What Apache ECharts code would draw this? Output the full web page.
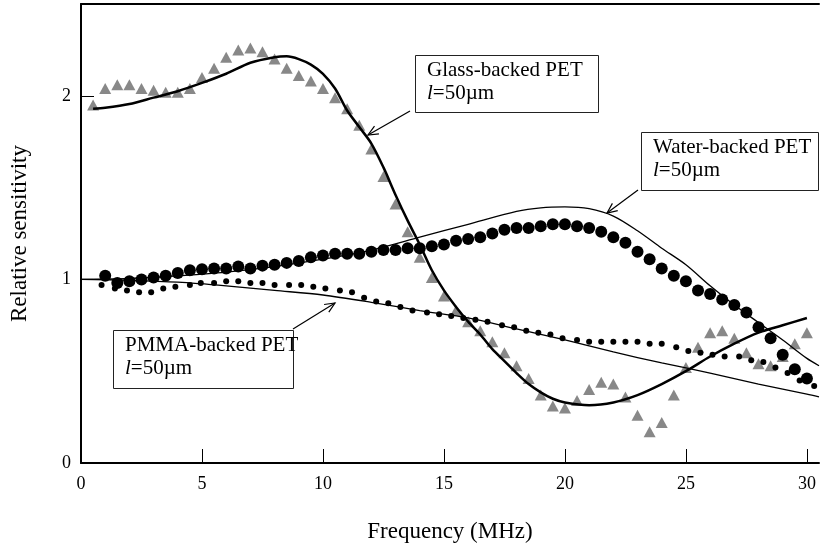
<!DOCTYPE html>
<html>
<head>
<meta charset="utf-8" />
<title>Relative sensitivity</title>
<style type="text/css">
body{ margin:0; background:#fff; }
#main{ width:821px; height:552px; }
</style>
</head>
<body>
<div id="main"></div>
<script src="https://cdn.jsdelivr.net/npm/echarts@6/dist/echarts.min.js"></script>
<script type="text/javascript">
// measured data (MHz, relative sensitivity)
var glassX = [0.5,1,1.5,2,2.5,3,3.5,4,4.5,5,5.5,6,6.5,7,7.5,8,8.5,9,9.5,10,10.5,11,11.5,12,12.5,13,13.5,14,14.5,15,15.5,16,16.5,17,17.5,18,18.5,19,19.5,20,20.5,21,21.5,22,22.5,23,23.5,24,24.5,25,25.5,26,26.5,27,27.5,28,28.5,29,29.5,30];
var glassY = [1.95,2.04,2.06,2.06,2.04,2.03,2.02,2.02,2.04,2.10,2.15,2.21,2.25,2.26,2.24,2.20,2.15,2.11,2.08,2.04,1.99,1.93,1.84,1.71,1.56,1.41,1.26,1.12,1.01,0.91,0.83,0.77,0.72,0.66,0.60,0.53,0.46,0.37,0.31,0.30,0.34,0.40,0.44,0.43,0.36,0.26,0.17,0.22,0.37,0.52,0.63,0.71,0.72,0.68,0.60,0.54,0.53,0.58,0.65,0.71];

var waterX = [1,1.5,2,2.5,3,3.5,4,4.5,5,5.5,6,6.5,7,7.5,8,8.5,9,9.5,10,10.5,11,11.5,12,12.5,13,13.5,14,14.5,15,15.5,16,16.5,17,17.5,18,18.5,19,19.5,20,20.5,21,21.5,22,22.5,23,23.5,24,24.5,25,25.5,26,26.5,27,27.5,28,28.5,29,29.5,30];
var waterY = [1.02,0.98,0.99,1.00,1.01,1.02,1.035,1.05,1.055,1.06,1.06,1.07,1.06,1.075,1.08,1.09,1.10,1.12,1.13,1.14,1.14,1.14,1.15,1.16,1.16,1.17,1.17,1.18,1.19,1.21,1.22,1.23,1.25,1.27,1.28,1.28,1.29,1.30,1.30,1.29,1.28,1.26,1.23,1.20,1.15,1.11,1.06,1.02,0.99,0.94,0.92,0.89,0.86,0.82,0.74,0.68,0.59,0.51,0.46];

var pmmaX = [0.85,1.4,1.9,2.4,2.9,3.4,3.9,4.5,4.95,5.5,6.0,6.5,7.0,7.5,8.0,8.6,9.1,9.6,10.1,10.7,11.2,11.7,12.2,12.7,13.2,13.7,14.3,14.8,15.3,15.8,16.3,16.8,17.4,17.9,18.4,18.9,19.4,19.9,20.5,21.0,21.5,22.0,22.5,23.0,23.5,24.0,24.6,25.1,25.6,26.1,26.6,27.2,27.7,28.2,28.7,29.2,29.7,30.3];
var pmmaY = [0.97,0.95,0.94,0.93,0.93,0.95,0.96,0.97,0.98,0.98,0.99,0.99,0.98,0.98,0.97,0.97,0.97,0.96,0.95,0.94,0.93,0.90,0.88,0.87,0.85,0.83,0.82,0.81,0.80,0.79,0.78,0.77,0.75,0.74,0.72,0.71,0.70,0.68,0.67,0.66,0.66,0.66,0.66,0.66,0.65,0.65,0.63,0.61,0.60,0.59,0.58,0.58,0.56,0.55,0.52,0.49,0.45,0.42];

// theory curves
var glassFitX = [0.5,1,2,3,4,5,6,7,8,8.5,9,9.5,10,10.5,11,11.5,12,12.5,13,13.5,14,14.5,15,15.5,16,16.5,17,17.5,18,18.5,19,19.5,20,21,22,23,24,25,26,27,28,29,30];
var glassFitY = [1.93,1.935,1.955,1.99,2.025,2.07,2.12,2.18,2.21,2.215,2.20,2.17,2.12,2.04,1.92,1.83,1.74,1.61,1.46,1.32,1.19,1.05,0.94,0.85,0.77,0.70,0.62,0.555,0.49,0.43,0.385,0.35,0.33,0.315,0.33,0.37,0.43,0.50,0.58,0.65,0.71,0.75,0.79];

var waterFitX = [0,2,4,6,8,10,12,14,16,18,19,20,21,22,23,24,25,26,27,28,29,30,30.5];
var waterFitY = [1.0,1.005,1.02,1.04,1.07,1.11,1.16,1.23,1.30,1.37,1.39,1.395,1.385,1.345,1.265,1.17,1.08,0.965,0.86,0.765,0.67,0.57,0.53];

var pmmaFitX = [0,2,4,6,8,10,12,14,16,18,20,22,24,26,28,30,30.5];
var pmmaFitY = [1.0,0.995,0.985,0.965,0.94,0.915,0.875,0.83,0.79,0.73,0.67,0.605,0.545,0.49,0.43,0.375,0.36];

var xTicks = [0,5,10,15,20,25,30];
var yTicks = [0,1,2];

function pairs(xs, ys){
  var out = [];
  for (var i = 0; i < xs.length; i++) out.push([xs[i], ys[i]]);
  return out;
}

var FONT = 'Liberation Serif';

// annotation boxes and arrows (pixel layout)
var notes = [
  {name:'Glass-backed PET', x:415, y:55, w:183, h:57, tail:[410,111], tip:[368,135]},
  {name:'Water-backed PET', x:641, y:132, w:177, h:58, tail:[638,190], tip:[607,213]},
  {name:'PMMA-backed PET', x:113, y:330, w:180, h:58, tail:[293,329], tip:[335,303]}
];

function arrowHead(tail, tip){
  var dx = tail[0]-tip[0], dy = tail[1]-tip[1];
  var len = Math.sqrt(dx*dx+dy*dy);
  var ux = dx/len, uy = dy/len;
  var a = 24*Math.PI/180, L = 11;
  var c = Math.cos(a), s = Math.sin(a);
  var p1 = [tip[0] + L*(ux*c - uy*s), tip[1] + L*(ux*s + uy*c)];
  var p2 = [tip[0] + L*(ux*c + uy*s), tip[1] + L*(-ux*s + uy*c)];
  return [p1, tip, p2];
}

var graphics = [];
notes.forEach(function(n){
  graphics.push({type:'rect', shape:{x:n.x+0.5, y:n.y+0.5, width:n.w, height:n.h},
    style:{fill:'#fff', stroke:'#222', lineWidth:1}, z:10});
  graphics.push({type:'text', x:n.x+12, y:n.y+4, z:11,
    style:{text:n.name+'\n{i|l}=50\u00b5m', font:'21px ' + FONT, fill:'#000', lineHeight:23,
      rich:{i:{fontStyle:'italic', fontSize:21, fontFamily:FONT, fill:'#000'}}}});
  graphics.push({type:'polyline', shape:{points:[n.tail, n.tip]}, style:{stroke:'#000', lineWidth:1.2}, z:10});
  graphics.push({type:'polyline', shape:{points:arrowHead(n.tail, n.tip)}, style:{stroke:'#000', lineWidth:1.2, fill:null}, z:10});
});

var myChart = echarts.init(document.getElementById('main'));

var option = {
  backgroundColor: '#fff',
  animation: false,
  grid: {left:81, right:2, top:4, bottom:89},
  xAxis: [{
    type:'value', min:0, max:30.5, position:'bottom',
    name:'Frequency (MHz)', nameLocation:'middle', nameGap:57,
    nameTextStyle:{fontFamily:FONT, fontSize:23, color:'#000'},
    axisLine:{show:true, onZero:false, lineStyle:{color:'#000', width:2}},
    axisTick:{show:true, inside:true, length:14, customValues:xTicks, lineStyle:{color:'#000', width:1}},
    axisLabel:{customValues:xTicks, fontFamily:FONT, fontSize:18, color:'#000', margin:12},
    splitLine:{show:false}
  }, {
    type:'value', min:0, max:30.5, position:'top',
    axisLine:{show:true, onZero:false, lineStyle:{color:'#000', width:2}},
    axisTick:{show:false}, axisLabel:{show:false}, splitLine:{show:false}
  }],
  yAxis: {
    type:'value', min:0, max:2.5,
    name:'Relative sensitivity', nameLocation:'middle', nameGap:50,
    nameTextStyle:{fontFamily:FONT, fontSize:23, color:'#000'},
    axisLine:{show:true, onZero:false, lineStyle:{color:'#000', width:2}},
    axisTick:{show:true, inside:true, length:13, customValues:yTicks, lineStyle:{color:'#000', width:1}},
    axisLabel:{customValues:yTicks, fontFamily:FONT, fontSize:18, color:'#000', margin:10},
    splitLine:{show:false}
  },
  series: [
    {name:'glassData', type:'scatter', symbol:'triangle', symbolSize:[12,11],
      itemStyle:{color:'#888888', opacity:1}, data:pairs(glassX, glassY), z:2},
    {name:'waterData', type:'scatter', symbol:'circle', symbolSize:12,
      itemStyle:{color:'#000', opacity:1}, data:pairs(waterX, waterY), z:4},
    {name:'pmmaData', type:'scatter', symbol:'circle', symbolSize:6,
      itemStyle:{color:'#000', opacity:1}, data:pairs(pmmaX, pmmaY), z:4},
    {name:'glassFit', type:'line', smooth:0.3, showSymbol:false, symbol:'none',
      lineStyle:{color:'#000', width:2.5}, data:pairs(glassFitX, glassFitY), z:3},
    {name:'waterFit', type:'line', smooth:0.3, showSymbol:false, symbol:'none',
      lineStyle:{color:'#000', width:1.3}, data:pairs(waterFitX, waterFitY), z:3},
    {name:'pmmaFit', type:'line', smooth:0.3, showSymbol:false, symbol:'none',
      lineStyle:{color:'#000', width:1.3}, data:pairs(pmmaFitX, pmmaFitY), z:3}
  ],
  graphic: graphics
};

myChart.setOption(option);
</script>
</body>
</html>
